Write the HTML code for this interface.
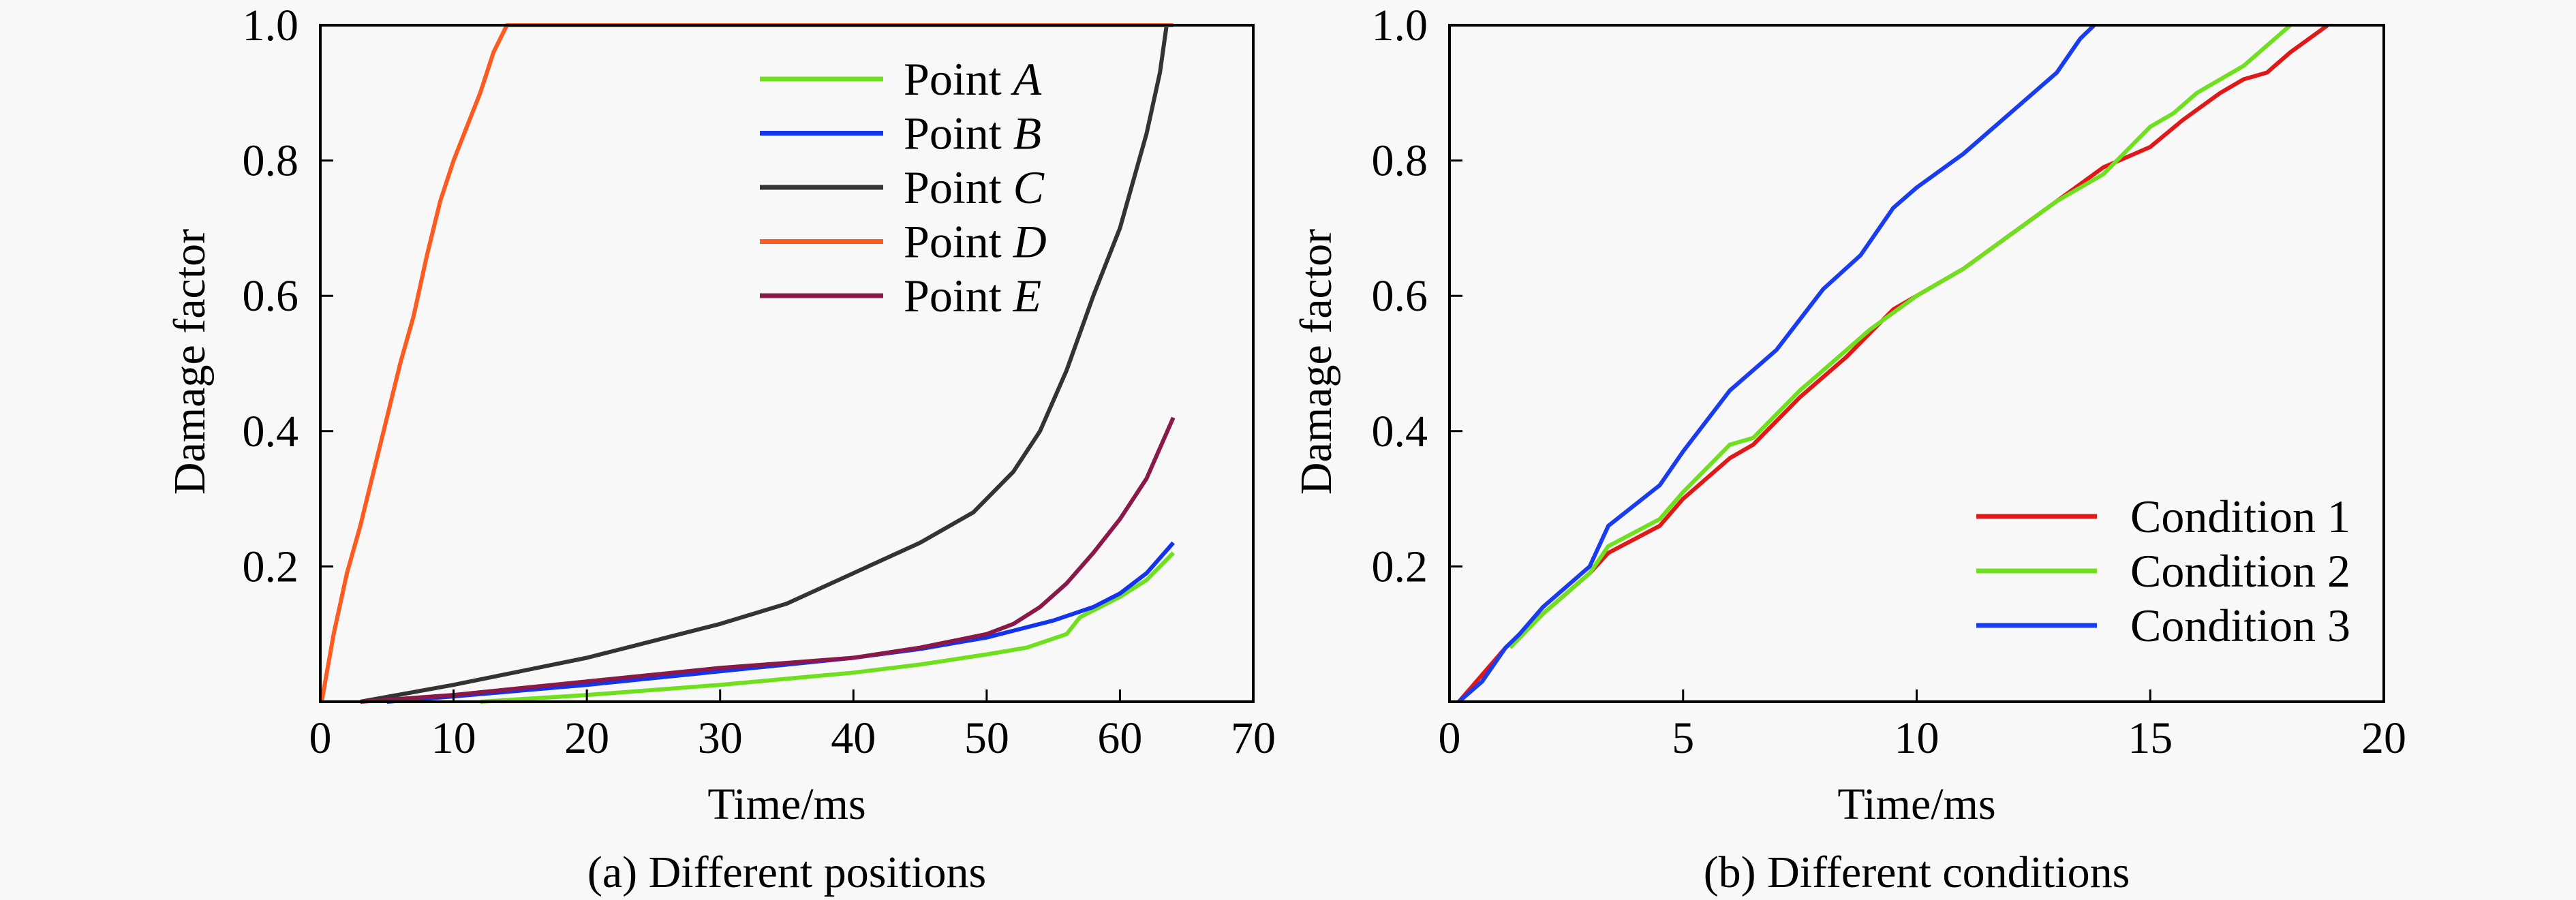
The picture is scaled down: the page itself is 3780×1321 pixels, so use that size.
<!DOCTYPE html>
<html><head><meta charset="utf-8"><style>
html,body{margin:0;padding:0;background:#f8f8f8;}
svg{display:block;}
svg text{font-family:"Liberation Serif","Times New Roman",serif;}
</style></head><body>
<svg id="chart" width="3780" height="1321" viewBox="0 0 3780 1321">
<rect x="0" y="0" width="3780" height="1321" fill="#f8f8f8"/>
<g id="pa"></g>
<g id="pb"></g>
</svg>
<script>
const NS='http://www.w3.org/2000/svg';
// Panel A data
const aXTicks=[0,10,20,30,40,50,60,70];
const aYTicks=[0.2,0.4,0.6,0.8,1.0];
const aNames=['Point A','Point B','Point C','Point D','Point E'];
const aLetters=['A','B','C','D','E'];
const aColors=['#6fe01e','#1234ee','#333333','#ff5a1f','#8a1848'];
const aAx=[[12,20,30,40,45,50,53,56,57,60,62,64],
[5,10,20,30,40,45,50,55,58,60,62,64],
[3,10,20,30,35,40,45,49,52,54,56,58,60,62,63,63.5],
[0.1,1,2,3,4,5,6,7,8,9,10,11,12,13,14,64],
[3,10,20,30,40,45,50,52,54,56,58,60,62,64]];
const aAy=[[0,0.01,0.025,0.043,0.055,0.07,0.08,0.1,0.125,0.155,0.18,0.22],
[0,0.008,0.025,0.045,0.065,0.078,0.095,0.12,0.14,0.16,0.19,0.235],
[0,0.025,0.065,0.115,0.145,0.19,0.235,0.28,0.34,0.40,0.49,0.60,0.70,0.84,0.93,1.0],
[0,0.1,0.19,0.26,0.34,0.42,0.5,0.57,0.66,0.74,0.8,0.85,0.9,0.96,1.0,1.0],
[0,0.01,0.03,0.05,0.065,0.08,0.10,0.115,0.14,0.175,0.22,0.27,0.33,0.42]];
// Panel B data
const bXTicks=[0,5,10,15,20];
const bYTicks=[0.2,0.4,0.6,0.8,1.0];
const bNames=['Condition 1','Condition 2','Condition 3'];
const bColors=['#e01818','#6fe01e','#1a3cf0'];
const bBx=[[0.2,1.2,2,3,3.4,4.5,5,6,6.5,7.5,8.5,9.5,10,11,12,13,14,15,15.7,16.5,17,17.5,18,18.8],
[1.3,2,3,3.4,4.5,5,6,6.5,7.5,8.5,9,10,11,12,13,14,15,15.5,16,17,18],
[0.2,0.7,1.2,1.5,2,3,3.4,4.5,5,6,7,8,8.8,9,9.5,10,11,12,13,13.5,13.8]];
const bBy=[[0,0.08,0.13,0.19,0.22,0.26,0.3,0.36,0.38,0.45,0.51,0.58,0.6,0.64,0.69,0.74,0.79,0.82,0.86,0.9,0.92,0.93,0.96,1.0],
[0.08,0.13,0.19,0.23,0.27,0.31,0.38,0.39,0.46,0.52,0.55,0.6,0.64,0.69,0.74,0.78,0.85,0.87,0.9,0.94,1.0],
[0,0.03,0.08,0.1,0.14,0.2,0.26,0.32,0.37,0.46,0.52,0.61,0.66,0.68,0.73,0.76,0.81,0.87,0.93,0.98,1.0]];

function mk(parent,tag,attrs,text){const e=document.createElementNS(NS,tag);for(const k in attrs)e.setAttribute(k,attrs[k]);if(text!==undefined)e.textContent=text;parent.appendChild(e);return e;}
const FF='Liberation Serif, Times New Roman, serif';

function panel(g,cfg){
  const {L,R,T,B,xmax,xt,yt}=cfg;
  const sx=v=>L+(R-L)*v/xmax, sy=v=>B-(B-T)*v;
  cfg.xs.forEach((xs,i)=>{
    const d=xs.map((x,j)=>(j?'L':'M')+sx(x).toFixed(1)+','+sy(cfg.ys[i][j]).toFixed(1)).join(' ');
    const p=mk(g,'path',{d:d,fill:'none',stroke:cfg.colors[i],'stroke-width':6,'stroke-linejoin':'round'});
    
    
  });
  const f=mk(g,'rect',{x:L,y:T,width:R-L,height:B-T,fill:'none',stroke:'#000','stroke-width':4});
  
  
  xt.forEach(v=>{
    if(v>0&&v<xmax){const t=mk(g,'line',{x1:sx(v),x2:sx(v),y1:B,y2:B-18,stroke:'#000','stroke-width':3});
    
    }
    const l=mk(g,'text',{x:sx(v),y:1105,'font-size':66,'font-family':FF,'text-anchor':'middle'},String(v));
    
    
  });
  yt.forEach(v=>{
    if(v<1){const t=mk(g,'line',{x1:L,x2:L+19,y1:sy(v),y2:sy(v),stroke:'#000','stroke-width':3});
    
    }
    const l=mk(g,'text',{x:L-32,y:sy(v)+22,'font-size':66,'font-family':FF,'text-anchor':'end'},v.toFixed(1));
    
    
  });
  const yl=mk(g,'text',{x:0,y:0,'font-size':66,'font-family':FF,'text-anchor':'middle',transform:`translate(${cfg.ytx},531) rotate(-90)`},'Damage factor');
  
  
  const xl=mk(g,'text',{x:(L+R)/2,y:1202,'font-size':66,'font-family':FF,'text-anchor':'middle'},'Time/ms');
  
  
  const cp=mk(g,'text',{x:(L+R)/2,y:1302,'font-size':66,'font-family':FF,'text-anchor':'middle'},cfg.caption);
  
  
  cfg.names.forEach((n,i)=>{
    const y=cfg.legY[0]+i*cfg.legY[1];
    const ln=mk(g,'line',{x1:cfg.legX[0],x2:cfg.legX[1],y1:y,y2:y,stroke:cfg.colors[i],'stroke-width':7});
    
    
    const t=mk(g,'text',{x:cfg.legX[2],y:y+23,'font-size':68,'font-family':FF});
    
    
    if(cfg.letters){t.appendChild(document.createTextNode('Point '));mk(t,'tspan',{'font-style':'italic'},cfg.letters[i]);}
    else t.textContent=n;
  });
}
panel(document.getElementById('pa'),{L:470,R:1839,T:37,B:1030,xmax:70,xt:aXTicks,yt:aYTicks,xs:aAx,ys:aAy,colors:aColors,names:aNames,letters:aLetters,ytx:300,caption:'(a) Different positions',legX:[1115,1296,1326],legY:[116,79.5]});
panel(document.getElementById('pb'),{L:2127,R:3498,T:37,B:1030,xmax:20,xt:bXTicks,yt:bYTicks,xs:bBx,ys:bBy,colors:bColors,names:bNames,ytx:1953,caption:'(b) Different conditions',legX:[2900,3077,3126],legY:[758,80]});
</script>
</body></html>
